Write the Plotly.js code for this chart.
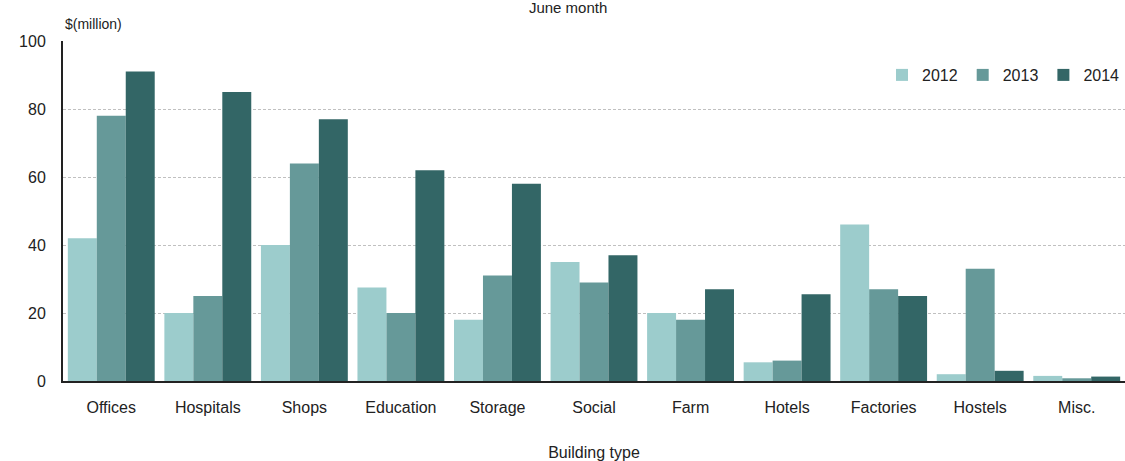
<!DOCTYPE html>
<html><head><meta charset="utf-8">
<script src="https://cdn.plot.ly/plotly-3.0.1.min.js"></script>
<style>body{margin:0;padding:0;background:#fff}#chart{width:1125px;height:461px}</style>
</head><body><div id="chart"></div>
<script>
const categories = ["Offices","Hospitals","Shops","Education","Storage","Social","Farm","Hotels","Factories","Hostels","Misc."];
const seriesNames = ["2012","2013","2014"];
const v2012 = [42,20,40,27.5,18,35,20,5.5,46,2,1.5];
const v2013 = [78,25,64,20,31,29,18,6,27,33,0.8];
const v2014 = [91,85,77,62,58,37,27,25.5,25,3,1.3];
const yTicks = [0,20,40,60,80,100];
const colors = ["#9ccccc","#669999","#336666"];
const values = [v2012,v2013,v2014];
const traces = values.map((v,i)=>({type:"bar",name:seriesNames[i],x:categories,y:v,marker:{color:colors[i],line:{width:0}},hoverinfo:"y"}));
const FAM = "Liberation Sans, Arial, sans-serif";
const font = {family:FAM,size:16,color:"#222"};
const layout = {
  width:1125,height:461,
  margin:{l:63,r:0,t:41,b:80},
  paper_bgcolor:"#fff",plot_bgcolor:"#fff",
  font:font,
  barmode:"group",bargap:0.1,bargroupgap:0,
  title:{text:"June month",font:{family:FAM,size:15,color:"#222"},x:0.505,xanchor:"center",y:0.983,yref:"container",yanchor:"middle"},
  xaxis:{type:"category",showline:true,linecolor:"#222",linewidth:2,ticks:"",tickfont:font,ticklabelstandoff:11,
    title:{text:"Building type",font:font,standoff:32},automargin:false},
  yaxis:{range:[0,100],tickvals:yTicks,showline:true,linecolor:"#222",linewidth:2,ticks:"",ticklabelstandoff:12,
    showgrid:true,gridcolor:"#c0c0c0",griddash:"3px,2px",gridwidth:1,zeroline:false,tickfont:font,ticklen:0,automargin:false},
  legend:{orientation:"h",x:1.0,xanchor:"right",y:0.9,yanchor:"middle",font:font,itemwidth:30,traceorder:"normal"},
  annotations:[{text:"$(million)",xref:"paper",yref:"paper",x:0,y:1.02,xanchor:"left",yanchor:"bottom",showarrow:false,font:{family:FAM,size:14,color:"#222"}}],
  showlegend:true
};
Plotly.newPlot("chart",traces,layout,{displayModeBar:false,staticPlot:true});
</script></body></html>
